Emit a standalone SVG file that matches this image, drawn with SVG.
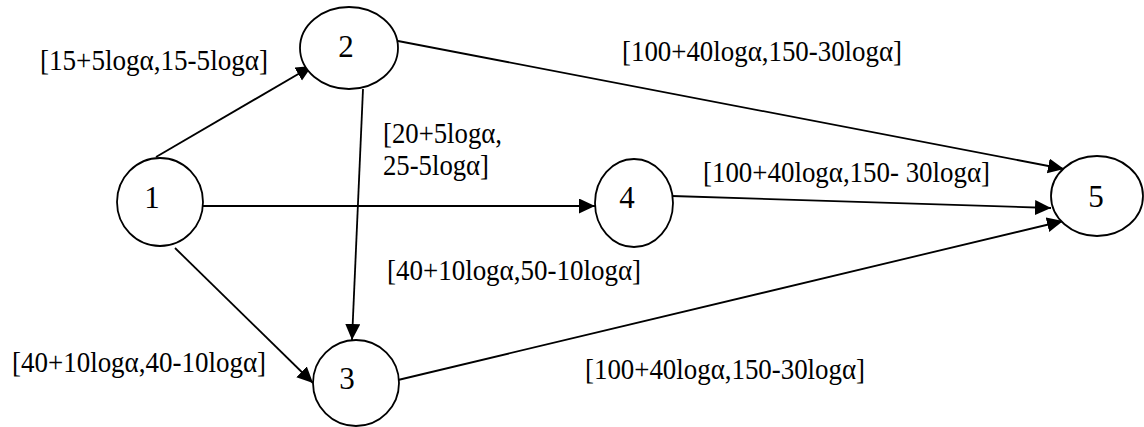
<svg xmlns="http://www.w3.org/2000/svg" width="1144" height="427" viewBox="0 0 1144 427">
<style>
.n{fill:#fff;stroke:#000;stroke-width:1.8}
.e{stroke:#000;stroke-width:1.8;fill:none;marker-end:url(#ah)}
.nl{font-size:31px;text-anchor:middle}
.el{font-size:30px}
</style>
<defs>
<marker id="ah" markerUnits="userSpaceOnUse" markerWidth="18" markerHeight="18" refX="16" refY="7.5" orient="auto">
<path d="M0,0 L16,7.5 L0,15 z" fill="#000"/>
</marker>
</defs>
<rect width="1144" height="427" fill="#fff"/>
<g id="connectors">
<line class="e" x1="156" y1="157" x2="312" y2="66"/>
<line class="e" x1="363" y1="89" x2="352" y2="340"/>
<line class="e" x1="202" y1="206" x2="595" y2="206"/>
<line class="e" x1="175" y1="248" x2="313" y2="383"/>
<line class="e" x1="398" y1="41" x2="1064" y2="169"/>
<line class="e" x1="672" y1="196" x2="1051" y2="208"/>
<line class="e" x1="398" y1="380" x2="1063" y2="221"/>
</g>
<g font-family="'Liberation Serif', 'Times New Roman', serif" fill="#000">
<g id="node1"><ellipse class="n" cx="160" cy="202" rx="43" ry="44"/><text class="nl" x="152" y="208">1</text></g>
<g id="node2"><ellipse class="n" cx="349" cy="48" rx="49" ry="41"/><text class="nl" x="346" y="57">2</text></g>
<g id="node3"><ellipse class="n" cx="356" cy="383" rx="43" ry="43"/><text class="nl" x="347" y="389">3</text></g>
<g id="node4"><ellipse class="n" cx="634" cy="203" rx="39" ry="44"/><text class="nl" x="627" y="208">4</text></g>
<g id="node5"><ellipse class="n" cx="1097" cy="196" rx="46" ry="40"/><text class="nl" x="1096" y="207">5</text></g>
<g id="labels">
<text class="el" x="40" y="70" textLength="228" lengthAdjust="spacingAndGlyphs">[15+5logα,15-5logα]</text>
<text class="el" x="622" y="61" textLength="280" lengthAdjust="spacingAndGlyphs">[100+40logα,150-30logα]</text>
<text class="el" x="383" y="143" textLength="119" lengthAdjust="spacingAndGlyphs">[20+5logα,</text>
<text class="el" x="383" y="175" textLength="106" lengthAdjust="spacingAndGlyphs">25-5logα]</text>
<text class="el" x="703" y="182" textLength="287" lengthAdjust="spacingAndGlyphs">[100+40logα,150- 30logα]</text>
<text class="el" x="387" y="280" textLength="254" lengthAdjust="spacingAndGlyphs">[40+10logα,50-10logα]</text>
<text class="el" x="12" y="372" textLength="254" lengthAdjust="spacingAndGlyphs">[40+10logα,40-10logα]</text>
<text class="el" x="585" y="379" textLength="280" lengthAdjust="spacingAndGlyphs">[100+40logα,150-30logα]</text>
</g>
</g>
</svg>
